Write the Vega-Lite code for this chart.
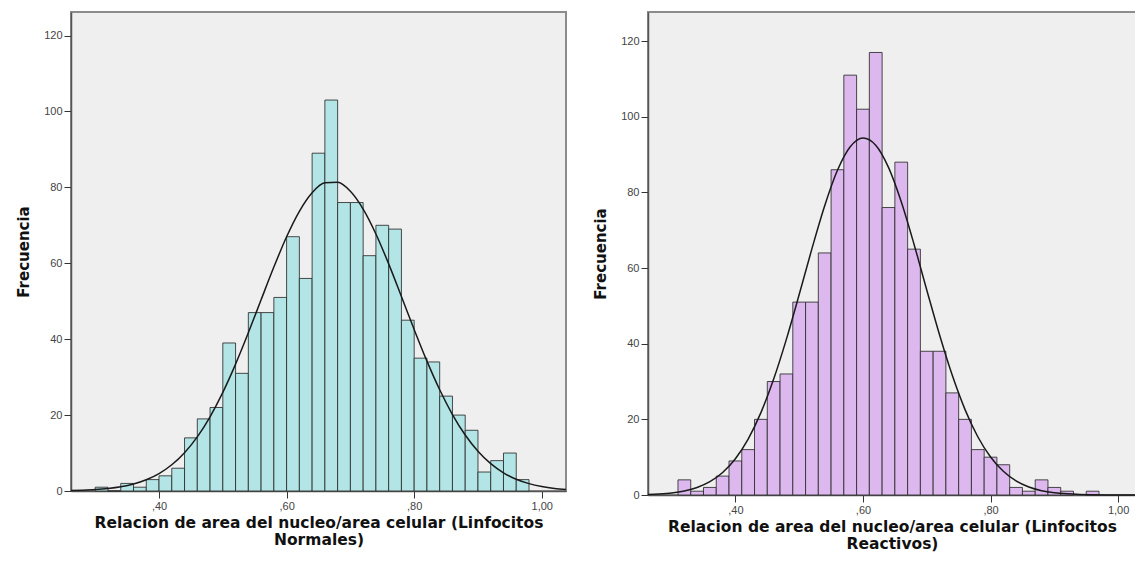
{
  "$schema": "https://vega.github.io/schema/vega-lite/v6.json",
  "background": "white",
  "padding": {"left": 15, "top": 11, "right": 0, "bottom": 0},
  "spacing": 22,
  "datasets": {
    "normales": [
      {"start": 0.30, "end": 0.32, "n": 1},
      {"start": 0.32, "end": 0.34, "n": 0},
      {"start": 0.34, "end": 0.36, "n": 2},
      {"start": 0.36, "end": 0.38, "n": 1},
      {"start": 0.38, "end": 0.40, "n": 3},
      {"start": 0.40, "end": 0.42, "n": 4},
      {"start": 0.42, "end": 0.44, "n": 6},
      {"start": 0.44, "end": 0.46, "n": 14},
      {"start": 0.46, "end": 0.48, "n": 19},
      {"start": 0.48, "end": 0.50, "n": 22},
      {"start": 0.50, "end": 0.52, "n": 39},
      {"start": 0.52, "end": 0.54, "n": 31},
      {"start": 0.54, "end": 0.56, "n": 47},
      {"start": 0.56, "end": 0.58, "n": 47},
      {"start": 0.58, "end": 0.60, "n": 51},
      {"start": 0.60, "end": 0.62, "n": 67},
      {"start": 0.62, "end": 0.64, "n": 56},
      {"start": 0.64, "end": 0.66, "n": 89},
      {"start": 0.66, "end": 0.68, "n": 103},
      {"start": 0.68, "end": 0.70, "n": 76},
      {"start": 0.70, "end": 0.72, "n": 76},
      {"start": 0.72, "end": 0.74, "n": 62},
      {"start": 0.74, "end": 0.76, "n": 70},
      {"start": 0.76, "end": 0.78, "n": 69},
      {"start": 0.78, "end": 0.80, "n": 45},
      {"start": 0.80, "end": 0.82, "n": 35},
      {"start": 0.82, "end": 0.84, "n": 34},
      {"start": 0.84, "end": 0.86, "n": 25},
      {"start": 0.86, "end": 0.88, "n": 20},
      {"start": 0.88, "end": 0.90, "n": 16},
      {"start": 0.90, "end": 0.92, "n": 5},
      {"start": 0.92, "end": 0.94, "n": 8},
      {"start": 0.94, "end": 0.96, "n": 10},
      {"start": 0.96, "end": 0.98, "n": 3}
    ],
    "curvaNormales": [
      {"x": 0.262, "y": 0.12}, {"x": 0.28, "y": 0.21}, {"x": 0.30, "y": 0.37}, {"x": 0.32, "y": 0.66},
      {"x": 0.34, "y": 1.12}, {"x": 0.36, "y": 1.85}, {"x": 0.38, "y": 2.96}, {"x": 0.40, "y": 4.60},
      {"x": 0.42, "y": 6.92}, {"x": 0.44, "y": 10.10}, {"x": 0.46, "y": 14.27}, {"x": 0.48, "y": 19.56},
      {"x": 0.50, "y": 25.97}, {"x": 0.52, "y": 33.42}, {"x": 0.54, "y": 41.67}, {"x": 0.56, "y": 50.37},
      {"x": 0.58, "y": 59.00}, {"x": 0.60, "y": 66.99}, {"x": 0.62, "y": 73.70}, {"x": 0.64, "y": 78.59},
      {"x": 0.66, "y": 81.22}, {"x": 0.68, "y": 81.34}, {"x": 0.70, "y": 78.96}, {"x": 0.72, "y": 74.28},
      {"x": 0.74, "y": 67.72}, {"x": 0.76, "y": 59.84}, {"x": 0.78, "y": 51.24}, {"x": 0.80, "y": 42.53},
      {"x": 0.82, "y": 34.21}, {"x": 0.84, "y": 26.67}, {"x": 0.86, "y": 20.15}, {"x": 0.88, "y": 14.75},
      {"x": 0.90, "y": 10.47}, {"x": 0.92, "y": 7.20}, {"x": 0.94, "y": 4.80}, {"x": 0.96, "y": 3.10},
      {"x": 0.98, "y": 1.94}, {"x": 1.00, "y": 1.18}, {"x": 1.02, "y": 0.69}, {"x": 1.038, "y": 0.42}
    ],
    "reactivos": [
      {"start": 0.31, "end": 0.33, "n": 4},
      {"start": 0.33, "end": 0.35, "n": 1},
      {"start": 0.35, "end": 0.37, "n": 2},
      {"start": 0.37, "end": 0.39, "n": 5},
      {"start": 0.39, "end": 0.41, "n": 9},
      {"start": 0.41, "end": 0.43, "n": 12},
      {"start": 0.43, "end": 0.45, "n": 20},
      {"start": 0.45, "end": 0.47, "n": 30},
      {"start": 0.47, "end": 0.49, "n": 32},
      {"start": 0.49, "end": 0.51, "n": 51},
      {"start": 0.51, "end": 0.53, "n": 51},
      {"start": 0.53, "end": 0.55, "n": 64},
      {"start": 0.55, "end": 0.57, "n": 86},
      {"start": 0.57, "end": 0.59, "n": 111},
      {"start": 0.59, "end": 0.61, "n": 102},
      {"start": 0.61, "end": 0.63, "n": 117},
      {"start": 0.63, "end": 0.65, "n": 76},
      {"start": 0.65, "end": 0.67, "n": 88},
      {"start": 0.67, "end": 0.69, "n": 65},
      {"start": 0.69, "end": 0.71, "n": 38},
      {"start": 0.71, "end": 0.73, "n": 38},
      {"start": 0.73, "end": 0.75, "n": 27},
      {"start": 0.75, "end": 0.77, "n": 20},
      {"start": 0.77, "end": 0.79, "n": 12},
      {"start": 0.79, "end": 0.81, "n": 10},
      {"start": 0.81, "end": 0.83, "n": 8},
      {"start": 0.83, "end": 0.85, "n": 2},
      {"start": 0.85, "end": 0.87, "n": 1},
      {"start": 0.87, "end": 0.89, "n": 4},
      {"start": 0.89, "end": 0.91, "n": 2},
      {"start": 0.91, "end": 0.93, "n": 1},
      {"start": 0.95, "end": 0.97, "n": 1}
    ],
    "curvaReactivos": [
      {"x": 0.263, "y": 0.13}, {"x": 0.28, "y": 0.28}, {"x": 0.30, "y": 0.56}, {"x": 0.32, "y": 1.08},
      {"x": 0.34, "y": 2.00}, {"x": 0.36, "y": 3.53}, {"x": 0.38, "y": 5.95}, {"x": 0.40, "y": 9.60},
      {"x": 0.42, "y": 14.79}, {"x": 0.44, "y": 21.78}, {"x": 0.46, "y": 30.65}, {"x": 0.48, "y": 41.22},
      {"x": 0.50, "y": 53.00}, {"x": 0.52, "y": 65.13}, {"x": 0.54, "y": 76.48}, {"x": 0.56, "y": 85.84},
      {"x": 0.58, "y": 92.07}, {"x": 0.60, "y": 94.40}, {"x": 0.62, "y": 92.49}, {"x": 0.64, "y": 86.61},
      {"x": 0.66, "y": 77.52}, {"x": 0.68, "y": 66.31}, {"x": 0.70, "y": 54.21}, {"x": 0.72, "y": 42.36},
      {"x": 0.74, "y": 31.63}, {"x": 0.76, "y": 22.58}, {"x": 0.78, "y": 15.40}, {"x": 0.80, "y": 10.04},
      {"x": 0.82, "y": 6.26}, {"x": 0.84, "y": 3.73}, {"x": 0.86, "y": 2.12}, {"x": 0.88, "y": 1.15},
      {"x": 0.90, "y": 0.60}, {"x": 0.92, "y": 0.30}, {"x": 0.94, "y": 0.14}, {"x": 0.96, "y": 0.07},
      {"x": 0.98, "y": 0.03}, {"x": 1.00, "y": 0.01}, {"x": 1.028, "y": 0.0}
    ]
  },
  "hconcat": [
    {
      "width": 495,
      "height": 479,
      "layer": [
        {
          "data": {"name": "normales"},
          "mark": {"type": "rect", "fill": "#B3E5E6", "stroke": "#2b2b2b", "strokeWidth": 1, "strokeOpacity": 0.85},
          "encoding": {
            "x": {
              "field": "start", "type": "quantitative",
              "scale": {"domain": [0.262, 1.038], "nice": false, "zero": false},
              "axis": {
                "values": [0.4, 0.6, 0.8, 1.0],
                "labelExpr": "datum.value >= 1 ? '1,00' : replace(format(datum.value, '.2f'), '0.', ',')",
                "title": ["Relacion de area del  nucleo/area celular (Linfocitos", "Normales)"]
              }
            },
            "x2": {"field": "end"},
            "y": {
              "field": "n", "type": "quantitative",
              "scale": {"domain": [0, 126.2], "nice": false},
              "axis": {"values": [0, 20, 40, 60, 80, 100, 120], "title": "Frecuencia"}
            },
            "y2": {"datum": 0}
          }
        },
        {
          "data": {"name": "curvaNormales"},
          "mark": {"type": "line", "color": "#1a1a1a", "strokeWidth": 1.5, "interpolate": "monotone"},
          "encoding": {
            "x": {"field": "x", "type": "quantitative"},
            "y": {"field": "y", "type": "quantitative"}
          }
        }
      ]
    },
    {
      "width": 488,
      "height": 483,
      "layer": [
        {
          "data": {"name": "reactivos"},
          "mark": {"type": "rect", "fill": "#DDB8EF", "stroke": "#2b2b2b", "strokeWidth": 1, "strokeOpacity": 0.85},
          "encoding": {
            "x": {
              "field": "start", "type": "quantitative",
              "scale": {"domain": [0.263, 1.028], "nice": false, "zero": false},
              "axis": {
                "values": [0.4, 0.6, 0.8, 1.0],
                "labelExpr": "datum.value >= 1 ? '1,00' : replace(format(datum.value, '.2f'), '0.', ',')",
                "title": ["Relacion de area del nucleo/area celular (Linfocitos", "Reactivos)"]
              }
            },
            "x2": {"field": "end"},
            "y": {
              "field": "n", "type": "quantitative",
              "scale": {"domain": [0, 127.7], "nice": false},
              "axis": {"values": [0, 20, 40, 60, 80, 100, 120], "title": "Frecuencia"}
            },
            "y2": {"datum": 0}
          }
        },
        {
          "data": {"name": "curvaReactivos"},
          "mark": {"type": "line", "color": "#1a1a1a", "strokeWidth": 1.5, "interpolate": "monotone"},
          "encoding": {
            "x": {"field": "x", "type": "quantitative"},
            "y": {"field": "y", "type": "quantitative"}
          }
        }
      ]
    }
  ],
  "config": {
    "font": "Liberation Sans",
    "view": {"fill": "#EFEFEF", "stroke": "#8c8c8c", "strokeWidth": 2},
    "axis": {
      "grid": false,
      "domainColor": "#555555",
      "domainWidth": 1.5,
      "tickColor": "#333333",
      "tickSize": 7,
      "labelColor": "#444444",
      "labelFont": "Liberation Sans",
      "labelFontSize": 11,
      "labelPadding": 2,
      "titleFont": "DejaVu Sans",
      "titleFontWeight": "bold",
      "titleColor": "#111111"
    },
    "axisX": {"titleFontSize": 15.5, "titlePadding": 4, "titleLineHeight": 17, "labelPadding": 2},
    "axisY": {"titleFontSize": 15, "titlePadding": 12, "labelPadding": 2}
  }
}
